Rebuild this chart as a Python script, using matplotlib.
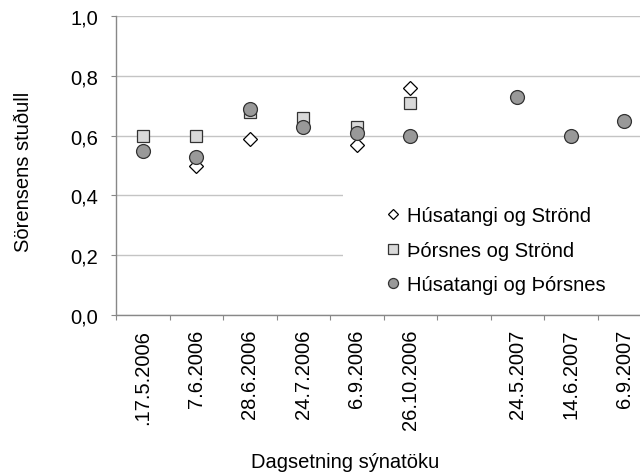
import numpy as np
import matplotlib.pyplot as plt
from matplotlib.patches import Rectangle

plt.rcParams['font.family'] = ['Liberation Sans', 'DejaVu Sans']

# sampling dates (one empty slot between 2006 and 2007, like the original chart)
dates = ['.17.5.2006', '7.6.2006', '28.6.2006', '24.7.2006', '6.9.2006',
         '26.10.2006', '', '24.5.2007', '14.6.2007', '6.9.2007']
nan = np.nan
husa_strond = [0.55, 0.50, 0.59, 0.63, 0.57, 0.76, nan, nan, nan, nan]
thors_strond = [0.60, 0.60, 0.68, 0.66, 0.63, 0.71, nan, nan, nan, nan]
husa_thors = [0.55, 0.53, 0.69, 0.63, 0.61, 0.60, nan, 0.73, 0.60, 0.65]

fs = 14.5
W, H = 640, 477
fig = plt.figure(figsize=(W/100, H/100), dpi=100)
# plot area runs a bit past the right edge of the picture, as in the original
ax = fig.add_axes([116/W, 1-316/H, 535/W, 299/H])

x = np.arange(len(dates))
ax.plot(x, husa_strond, linestyle='none', marker='D', markersize=6.7,
        markerfacecolor='white', markeredgecolor='black', markeredgewidth=0.9,
        label='Húsatangi og Strönd', zorder=3)
ax.plot(x, thors_strond, linestyle='none', marker='s', markersize=9.2,
        markerfacecolor='#d9d9d9', markeredgecolor='#333333', markeredgewidth=0.9,
        label='Þórsnes og Strönd', zorder=4)
ax.plot(x, husa_thors, linestyle='none', marker='o', markersize=10,
        markerfacecolor='#999999', markeredgecolor='#333333', markeredgewidth=0.9,
        label='Húsatangi og Þórsnes', zorder=5)

ax.set_xlim(-0.5, len(dates) - 0.5)
ax.set_ylim(0, 1.0)
yt = np.arange(0, 1.01, 0.2)
ax.set_yticks(yt)
ax.set_yticklabels([f'{v:.1f}'.replace('.', ',') for v in yt], fontsize=fs)
ax.set_xticks(x)
ax.set_xticklabels(dates, rotation=90, fontsize=fs)
ax.set_xticks(np.arange(-0.5, len(dates)), minor=True)
ax.tick_params(axis='x', which='major', length=0, pad=10)
ax.tick_params(axis='x', which='minor', length=3.6, color='#888888', width=0.8)
ax.tick_params(axis='y', length=3.6, color='#888888', width=0.8, pad=9.4)

ax.grid(axis='y', color='#c4c4c4', linewidth=1)
ax.set_axisbelow(True)
for s in ['top', 'right']:
    ax.spines[s].set_visible(False)
for s in ['left', 'bottom']:
    ax.spines[s].set_color('#888888')
    ax.spines[s].set_linewidth(1)

fig.text(24/W, 1-172/H, 'Sörensens stuðull', fontsize=fs, rotation=90,
         ha='center', va='center')
fig.text(345/W, 1-463/H, 'Dagsetning sýnatöku', fontsize=fs,
         ha='center', va='center')

# white legend area hiding the gridlines behind it
ax.add_patch(Rectangle((343/W, 1-305/H), 320/W, 115/H, transform=fig.transFigure,
                       facecolor='white', edgecolor='none', zorder=1))

leg = ax.legend(loc='upper left', bbox_to_anchor=(373/W, 1-197/H),
                bbox_transform=fig.transFigure, fontsize=fs, frameon=False,
                handlelength=1.0, handletextpad=0.2, labelspacing=0.78,
                borderpad=0, markerscale=0.72)

fig.savefig('out.png', dpi=100)
